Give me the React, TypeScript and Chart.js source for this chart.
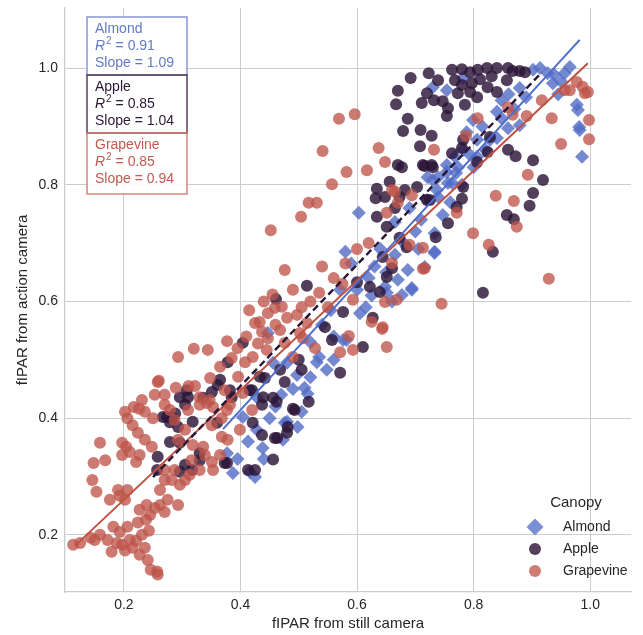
import { useEffect, useRef } from "react";
import { Chart, registerables } from "chart.js";

Chart.register(...registerables);

// fIPAR pairs (still camera, action camera) per canopy type
const almondPoints: [number, number][] = [
  [0.548, 0.483], [0.531, 0.496], [0.510, 0.452], [0.515, 0.442], [0.505, 0.411], [0.498, 0.385],
  [0.476, 0.392], [0.497, 0.474], [0.473, 0.363], [0.438, 0.349], [0.428, 0.380], [0.425, 0.299],
  [0.576, 0.534], [0.447, 0.546], [0.428, 0.436], [0.387, 0.306], [0.416, 0.308], [0.413, 0.360],
  [0.480, 0.394], [0.377, 0.340], [0.404, 0.402], [0.456, 0.495], [0.480, 0.495], [0.694, 0.620],
  [0.677, 0.611], [0.651, 0.615], [0.571, 0.620], [0.582, 0.534], [0.605, 0.580],
  [0.986, 0.848], [0.733, 0.683], [0.716, 0.659], [0.747, 0.748], [0.754, 0.834], [0.730, 0.808],
  [0.763, 0.803], [0.794, 0.851], [0.665, 0.736], [0.720, 0.774], [0.733, 0.717], [0.670, 0.637],
  [0.694, 0.623], [0.687, 0.654], [0.648, 0.625], [0.733, 0.685],
  [0.730, 0.967], [0.754, 0.962], [0.782, 0.983], [0.848, 0.945], [0.840, 0.925], [0.879, 0.966],
  [0.902, 0.997], [0.914, 1.000], [0.927, 0.991], [0.939, 0.988], [0.956, 0.991], [0.965, 1.002],
  [0.936, 0.974], [0.951, 0.976], [0.977, 0.937], [0.979, 0.928], [0.981, 0.899], [0.982, 0.894],
  [0.859, 0.897], [0.879, 0.902], [0.848, 0.914], [0.828, 0.877], [0.806, 0.877], [0.799, 0.911],
  [0.788, 0.890], [0.782, 0.860], [0.806, 0.848], [0.768, 0.848], [0.754, 0.822], [0.773, 0.830],
  [0.739, 0.813], [0.721, 0.813], [0.756, 0.803], [0.737, 0.791], [0.603, 0.752], [0.739, 0.779],
  [0.540, 0.560], [0.555, 0.585], [0.520, 0.530], [0.600, 0.620], [0.620, 0.640], [0.580, 0.685],
  [0.590, 0.665], [0.630, 0.660], [0.640, 0.690], [0.700, 0.720], [0.760, 0.770], [0.780, 0.800],
  [0.800, 0.830], [0.820, 0.860], [0.840, 0.880], [0.870, 0.930], [0.890, 0.950], [0.460, 0.420],
  [0.450, 0.400], [0.395, 0.330], [0.440, 0.330], [0.470, 0.440], [0.490, 0.450], [0.520, 0.470],
  [0.535, 0.505], [0.560, 0.500],
  [0.560, 0.540], [0.615, 0.590], [0.650, 0.650], [0.665, 0.680], [0.680, 0.700], [0.705, 0.690],
  [0.710, 0.740], [0.690, 0.760], [0.625, 0.610], [0.660, 0.600], [0.770, 0.820], [0.815, 0.900],
  [0.860, 0.955], [0.945, 0.955],
];

const applePoints: [number, number][] = [
  [0.692, 0.983], [0.723, 0.991], [0.739, 0.979], [0.670, 0.961], [0.667, 0.938], [0.711, 0.940],
  [0.720, 0.957], [0.732, 0.945], [0.747, 0.943], [0.756, 0.931], [0.754, 0.918], [0.687, 0.913],
  [0.679, 0.892], [0.709, 0.894], [0.728, 0.884], [0.708, 0.866], [0.763, 0.997], [0.780, 0.998],
  [0.794, 0.993], [0.807, 0.997], [0.823, 1.000], [0.840, 1.000], [0.859, 1.000], [0.867, 0.995],
  [0.879, 0.995], [0.888, 0.993], [0.768, 0.979], [0.780, 0.971], [0.797, 0.974], [0.811, 0.981],
  [0.831, 0.986], [0.857, 0.979], [0.773, 0.957], [0.794, 0.959], [0.824, 0.967], [0.806, 0.950],
  [0.785, 0.937], [0.840, 0.959], [0.782, 0.877], [0.780, 0.863], [0.728, 0.834], [0.713, 0.834],
  [0.763, 0.854], [0.828, 0.882], [0.859, 0.860], [0.872, 0.849], [0.902, 0.842], [0.919, 0.808],
  [0.902, 0.786], [0.670, 0.834], [0.677, 0.830], [0.656, 0.805], [0.682, 0.791], [0.703, 0.796],
  [0.634, 0.793], [0.648, 0.779], [0.632, 0.777], [0.665, 0.760], [0.716, 0.832], [0.730, 0.830],
  [0.634, 0.745], [0.720, 0.774],
  [0.896, 0.764], [0.857, 0.748], [0.869, 0.741], [0.833, 0.685], [0.816, 0.615], [0.780, 0.776],
  [0.771, 0.762], [0.756, 0.734], [0.735, 0.710], [0.782, 0.796], [0.806, 0.839], [0.824, 0.856],
  [0.514, 0.627], [0.461, 0.604], [0.404, 0.529], [0.365, 0.466], [0.382, 0.448], [0.351, 0.445],
  [0.336, 0.435], [0.360, 0.392], [0.330, 0.340], [0.373, 0.323], [0.425, 0.311], [0.416, 0.448],
  [0.437, 0.423], [0.456, 0.435], [0.462, 0.428], [0.421, 0.392], [0.437, 0.371], [0.459, 0.366],
  [0.481, 0.385], [0.493, 0.414], [0.517, 0.428], [0.505, 0.483], [0.500, 0.500], [0.476, 0.462],
  [0.468, 0.483], [0.571, 0.478], [0.610, 0.522], [0.557, 0.534], [0.545, 0.556], [0.576, 0.582],
  [0.627, 0.572], [0.622, 0.625], [0.639, 0.616], [0.600, 0.633], [0.442, 0.469], [0.490, 0.416],
  [0.480, 0.375], [0.463, 0.366], [0.456, 0.329], [0.420, 0.448],
  [0.378, 0.496], [0.308, 0.448], [0.296, 0.436], [0.310, 0.436], [0.305, 0.423], [0.274, 0.402],
  [0.288, 0.408], [0.279, 0.393], [0.293, 0.385], [0.318, 0.394], [0.361, 0.457], [0.385, 0.436],
  [0.433, 0.471], [0.439, 0.436], [0.267, 0.402], [0.284, 0.400], [0.279, 0.359], [0.296, 0.358],
  [0.258, 0.334], [0.257, 0.311], [0.305, 0.320], [0.317, 0.311], [0.330, 0.328], [0.296, 0.308],
  [0.377, 0.323], [0.413, 0.311],
  [0.651, 0.728], [0.673, 0.709], [0.644, 0.676], [0.660, 0.657], [0.685, 0.693], [0.651, 0.642],
  [0.725, 0.774], [0.673, 0.779],
];

const grapevinePoints: [number, number][] = [
  [0.113, 0.183], [0.125, 0.186], [0.143, 0.195], [0.150, 0.191], [0.159, 0.200], [0.172, 0.191],
  [0.179, 0.171], [0.188, 0.186], [0.197, 0.183], [0.202, 0.173], [0.210, 0.191], [0.215, 0.178],
  [0.221, 0.190], [0.227, 0.166], [0.236, 0.178], [0.241, 0.157], [0.246, 0.140], [0.257, 0.137],
  [0.258, 0.132], [0.243, 0.207], [0.231, 0.200], [0.238, 0.226], [0.245, 0.234], [0.253, 0.246],
  [0.239, 0.251], [0.227, 0.243], [0.224, 0.221], [0.206, 0.214], [0.193, 0.205], [0.182, 0.214],
  [0.202, 0.260], [0.193, 0.267], [0.206, 0.277], [0.190, 0.277], [0.176, 0.260], [0.153, 0.274],
  [0.146, 0.294], [0.148, 0.323], [0.159, 0.358], [0.168, 0.328], [0.197, 0.358], [0.204, 0.351],
  [0.197, 0.337], [0.210, 0.342], [0.221, 0.325], [0.227, 0.337], [0.236, 0.363], [0.248, 0.351],
  [0.224, 0.375], [0.215, 0.388], [0.206, 0.400], [0.202, 0.411], [0.217, 0.419], [0.236, 0.411],
  [0.231, 0.431], [0.253, 0.440], [0.258, 0.462], [0.270, 0.440], [0.279, 0.414], [0.287, 0.397],
  [0.293, 0.363], [0.270, 0.311], [0.282, 0.294], [0.296, 0.286], [0.262, 0.277], [0.270, 0.294],
  [0.275, 0.260], [0.262, 0.251], [0.293, 0.251], [0.270, 0.239], [0.305, 0.294], [0.287, 0.311],
  [0.313, 0.303], [0.330, 0.311], [0.316, 0.328], [0.339, 0.337], [0.351, 0.325], [0.318, 0.354],
  [0.305, 0.380], [0.310, 0.414], [0.330, 0.423], [0.347, 0.431], [0.351, 0.388], [0.368, 0.400],
  [0.382, 0.423],
  [0.293, 0.505], [0.320, 0.519], [0.344, 0.517], [0.377, 0.532], [0.260, 0.464], [0.289, 0.452],
  [0.226, 0.416], [0.250, 0.400], [0.270, 0.423], [0.311, 0.455], [0.322, 0.455], [0.348, 0.469],
  [0.365, 0.488], [0.330, 0.436], [0.342, 0.426], [0.476, 0.654],
  [0.459, 0.589], [0.471, 0.591], [0.447, 0.580], [0.433, 0.565], [0.425, 0.563], [0.497, 0.577],
  [0.480, 0.572], [0.385, 0.503], [0.437, 0.548], [0.447, 0.537], [0.468, 0.551], [0.445, 0.517],
  [0.421, 0.505], [0.408, 0.496], [0.476, 0.529], [0.502, 0.546], [0.514, 0.563], [0.507, 0.537],
  [0.528, 0.520], [0.490, 0.505], [0.396, 0.471], [0.404, 0.443], [0.373, 0.448], [0.377, 0.414],
  [0.353, 0.419], [0.420, 0.414], [0.399, 0.380], [0.368, 0.368], [0.378, 0.363], [0.353, 0.311],
  [0.336, 0.351], [0.365, 0.337], [0.571, 0.513], [0.593, 0.517], [0.586, 0.541], [0.651, 0.522],
  [0.643, 0.553], [0.625, 0.565], [0.648, 0.599], [0.668, 0.603], [0.593, 0.603], [0.745, 0.596],
  [0.415, 0.585], [0.440, 0.600], [0.455, 0.612], [0.430, 0.528], [0.460, 0.560], [0.395, 0.520],
  [0.410, 0.540], [0.520, 0.600], [0.535, 0.615], [0.550, 0.590], [0.505, 0.590], [0.490, 0.620],
  [0.560, 0.640], [0.540, 0.660], [0.580, 0.665], [0.600, 0.690], [0.620, 0.700], [0.575, 0.630],
  [0.596, 0.921], [0.569, 0.913], [0.541, 0.858], [0.637, 0.863], [0.648, 0.839], [0.582, 0.822],
  [0.617, 0.825], [0.557, 0.801], [0.517, 0.769], [0.531, 0.769], [0.504, 0.745], [0.732, 0.860],
  [0.665, 0.788], [0.670, 0.769], [0.694, 0.782], [0.651, 0.752], [0.660, 0.791], [0.452, 0.722],
  [0.838, 0.781], [0.869, 0.772], [0.799, 0.717], [0.826, 0.697], [0.874, 0.728], [0.929, 0.639],
  [0.893, 0.817], [0.771, 0.752], [0.716, 0.657], [0.713, 0.692], [0.644, 0.556], [0.713, 0.656],
  [0.660, 0.666], [0.690, 0.697],
  [0.917, 0.945], [0.934, 0.914], [0.950, 0.870], [0.956, 0.962], [0.965, 0.962], [0.977, 0.976],
  [0.987, 0.968], [0.991, 0.957], [0.996, 0.959], [0.998, 0.911], [0.998, 0.878], [0.787, 0.884],
  [0.807, 0.914], [0.859, 0.933], [0.867, 0.920], [0.891, 0.918],
];

// Linear fit per canopy: slope, intercept, x extent
const canopyNames = ["Almond", "Apple", "Grapevine"];
const fitR2 = [0.91, 0.85, 0.85];
const fitSlope = [1.09, 1.04, 0.94];
const fitIntercept = [-0.022, 0.039, 0.072];
const fitXStart = [0.37, 0.25, 0.116];
const fitXEnd = [0.982, 0.917, 0.996];

const xTickValues = [0.2, 0.4, 0.6, 0.8, 1.0];
const yTickValues = [0.2, 0.4, 0.6, 0.8, 1.0];

const FONT = '"Liberation Sans", Arial, Helvetica, sans-serif';
const INK = "#262626";
const GRID = "#cccccc";

const pointFill = ["rgba(82,108,198,0.8)", "rgba(44,21,56,0.82)", "rgba(190,84,74,0.78)"];
const lineColor = ["#4d6ccb", "#2a1535", "#c0503f"];
const boxText = ["#6479c4", "#2b1836", "#c15a50"];
const boxEdge = ["#7f90d2", "#4a3352", "#d07c73"];
const legendFill = ["#7b8fd6", "#553f5d", "#d07c75"];

const toXY = (pts: [number, number][]) => pts.map(([x, y]) => ({ x, y }));

const fitLine = (i: number) => [
  { x: fitXStart[i], y: fitIntercept[i] + fitSlope[i] * fitXStart[i] },
  { x: fitXEnd[i], y: fitIntercept[i] + fitSlope[i] * fitXEnd[i] },
];

// Stats boxes (top-left) and Canopy legend (bottom-right)
const overlayPlugin = {
  id: "canopyOverlay",
  afterDraw(chart: any) {
    const ctx: CanvasRenderingContext2D = chart.ctx;
    ctx.save();
    const boxLeft = 87;
    const boxRight = 187;
    const tops = [17, 75, 133];
    const bottoms = [75, 133, 194];
    for (let i = 0; i < 3; i++) {
      ctx.fillStyle = "rgba(255,255,255,0.9)";
      ctx.fillRect(boxLeft, tops[i], boxRight - boxLeft, bottoms[i] - tops[i]);
    }
    for (let i = 0; i < 3; i++) {
      ctx.strokeStyle = boxEdge[i];
      ctx.lineWidth = 1.4;
      ctx.strokeRect(boxLeft, tops[i], boxRight - boxLeft, bottoms[i] - tops[i]);
      const tx = 95;
      const y0 = tops[i] + 12;
      ctx.fillStyle = boxText[i];
      ctx.textBaseline = "middle";
      ctx.textAlign = "left";
      ctx.font = `14px ${FONT}`;
      ctx.fillText(canopyNames[i], tx, y0);
      // R^2 line
      const y1 = y0 + 17;
      ctx.font = `italic 14px ${FONT}`;
      ctx.fillText("R", tx, y1);
      const rw = ctx.measureText("R").width;
      ctx.font = `10px ${FONT}`;
      ctx.fillText("2", tx + rw + 1, y1 - 5);
      const sw = ctx.measureText("2").width;
      ctx.font = `14px ${FONT}`;
      ctx.fillText(` = ${fitR2[i].toFixed(2)}`, tx + rw + 1 + sw, y1);
      const y2 = y1 + 17;
      ctx.fillText(`Slope = ${fitSlope[i].toFixed(2)}`, tx, y2);
    }

    // legend
    ctx.fillStyle = INK;
    ctx.textAlign = "center";
    ctx.textBaseline = "middle";
    ctx.font = `15px ${FONT}`;
    ctx.fillText("Canopy", 576, 503);
    const rows = [527, 549, 571];
    for (let i = 0; i < 3; i++) {
      const mx = 535;
      const my = rows[i];
      ctx.fillStyle = legendFill[i];
      ctx.beginPath();
      if (i === 0) {
        const r = 8.5;
        ctx.moveTo(mx, my - r);
        ctx.lineTo(mx + r, my);
        ctx.lineTo(mx, my + r);
        ctx.lineTo(mx - r, my);
        ctx.closePath();
      } else {
        ctx.arc(mx, my, 6, 0, Math.PI * 2);
      }
      ctx.fill();
      ctx.fillStyle = INK;
      ctx.textAlign = "left";
      ctx.font = `14px ${FONT}`;
      ctx.fillText(canopyNames[i], 563, my);
    }
    ctx.restore();
  },
};

export default function App() {
  const canvasRef = useRef<HTMLCanvasElement | null>(null);

  useEffect(() => {
    const canvas = canvasRef.current;
    if (!canvas) return;

    const scatterSet = (i: number, pts: [number, number][]) => ({
      type: "scatter" as const,
      label: canopyNames[i],
      data: toXY(pts),
      backgroundColor: pointFill[i],
      borderWidth: 0,
      pointStyle: i === 0 ? "rectRot" : "circle",
      pointRadius: i === 0 ? 7 : 6,
      order: 10 - i,
    });

    const lineSet = (i: number) => ({
      type: "line" as const,
      label: `${canopyNames[i]} fit`,
      data: fitLine(i),
      borderColor: lineColor[i],
      borderWidth: i === 1 ? 2.4 : 2,
      borderDash: i === 1 ? [7, 4] : [],
      pointRadius: 0,
      fill: false,
      order: i === 1 ? 0 : 1,
    });

    const chart = new Chart(canvas, {
      type: "scatter",
      data: {
        datasets: [
          scatterSet(0, almondPoints),
          scatterSet(1, applePoints),
          scatterSet(2, grapevinePoints),
          lineSet(0),
          lineSet(2),
          lineSet(1),
        ] as any,
      },
      options: {
        animation: false,
        responsive: false,
        maintainAspectRatio: false,
        layout: { padding: { top: 8, right: 12, left: 0, bottom: 0 } },
        plugins: {
          legend: { display: false },
          tooltip: { enabled: false },
        },
        scales: {
          x: {
            type: "linear",
            min: 0.099,
            max: 1.07,
            afterBuildTicks: (s: any) => {
              s.ticks = xTickValues.map((v) => ({ value: v }));
            },
            afterFit: (s: any) => {
              s.height = 43;
              s.paddingLeft = 0;
              s.paddingRight = 0;
            },
            ticks: {
              color: INK,
              font: { family: FONT, size: 14 },
              padding: 5,
              callback: (v: any) => Number(v).toFixed(1),
            },
            grid: { color: GRID, lineWidth: 1, drawTicks: false },
            border: { display: true, color: GRID, width: 1.3 },
            title: {
              display: true,
              text: "fIPAR from still camera",
              color: INK,
              font: { family: FONT, size: 15 },
              padding: { top: 0, bottom: 2 },
            },
          },
          y: {
            type: "linear",
            min: 0.102,
            max: 1.103,
            afterBuildTicks: (s: any) => {
              s.ticks = yTickValues.map((v) => ({ value: v }));
            },
            afterFit: (s: any) => {
              s.width = 65;
              s.paddingTop = 0;
              s.paddingBottom = 0;
            },
            ticks: {
              color: INK,
              font: { family: FONT, size: 14 },
              padding: 7,
              callback: (v: any) => Number(v).toFixed(1),
            },
            grid: { color: GRID, lineWidth: 1, drawTicks: false },
            border: { display: true, color: GRID, width: 1.3 },
            title: {
              display: true,
              text: "fIPAR from action camera",
              color: INK,
              font: { family: FONT, size: 15 },
              padding: { top: 14, bottom: 0 },
            },
          },
        },
      },
      plugins: [overlayPlugin],
    });

    return () => chart.destroy();
  }, []);

  return (
    <div style={{ position: "absolute", left: 0, top: 0, width: 643, height: 635, background: "#ffffff" }}>
      <canvas ref={canvasRef} width={643} height={635} style={{ width: 643, height: 635 }} />
    </div>
  );
}
